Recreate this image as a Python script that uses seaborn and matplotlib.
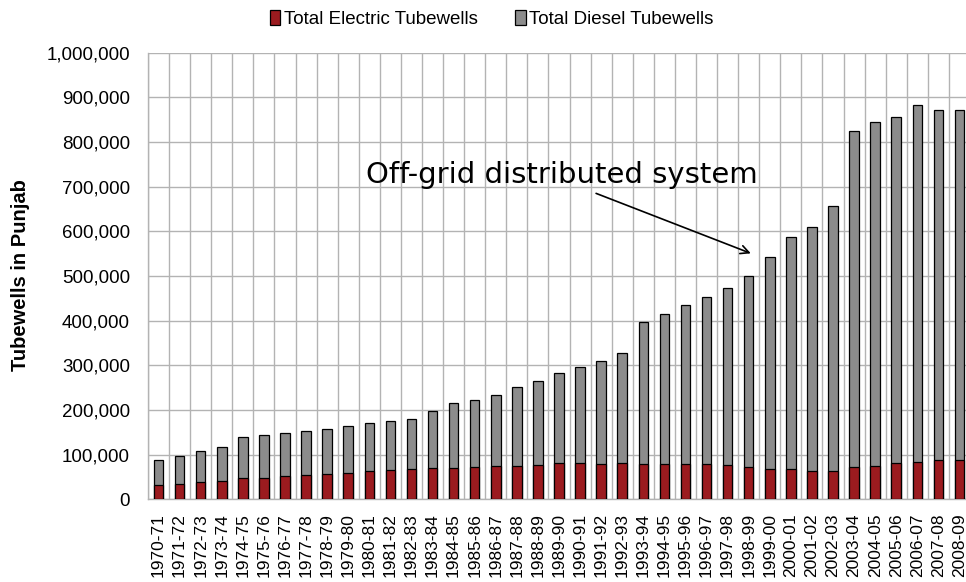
import numpy as np
import matplotlib
matplotlib.use("Agg")
import matplotlib.pyplot as plt
import seaborn as sns
from matplotlib.patches import Patch
from matplotlib.ticker import FuncFormatter

# Tubewells in Punjab, 1970-71 .. 2008-09
years = ["1970-71", "1971-72", "1972-73", "1973-74", "1974-75", "1975-76",
         "1976-77", "1977-78", "1978-79", "1979-80", "1980-81", "1981-82",
         "1982-83", "1983-84", "1984-85", "1985-86", "1986-87", "1987-88",
         "1988-89", "1989-90", "1990-91", "1991-92", "1992-93", "1993-94",
         "1994-95", "1995-96", "1996-97", "1997-98", "1998-99", "1999-00",
         "2000-01", "2001-02", "2002-03", "2003-04", "2004-05", "2005-06",
         "2006-07", "2007-08", "2008-09"]

electric = [31300, 34300, 38000, 41000, 47000, 48400, 51500, 54400, 56600, 58900,
            64000, 66300, 68500, 70000, 70700, 73000, 74500, 75200, 76800, 80600,
            80600, 79000, 80600, 79000, 78400, 79000, 79000, 76800, 73000, 67800,
            67200, 63400, 64000, 71600, 73900, 80600, 83500, 88000, 88000]

# electric + diesel (top of each stacked bar)
total = [88700, 97600, 108000, 117800, 138800, 144000, 149000, 153000, 157500, 164000,
         171500, 176000, 180500, 197000, 215000, 223000, 234000, 252000, 264000, 283000,
         296000, 310000, 328000, 396000, 415000, 435500, 452000, 473500, 500000, 542000,
         587000, 609500, 656000, 824000, 845000, 856500, 883500, 871500, 871500]

series_names = ["Total Electric Tubewells", "Total Diesel Tubewells"]
y_ticks = list(range(0, 1000001, 100000))

RED = "#9b1b1f"
GREY = "#8c8c8c"
GRID = "#b3b3b3"

sns.set_style("white")
plt.rcParams["font.family"] = ["Liberation Sans", "DejaVu Sans"]
plt.rcParams["text.color"] = "black"
plt.rcParams["xtick.labelcolor"] = "black"
plt.rcParams["ytick.labelcolor"] = "black"

fig = plt.figure(figsize=(9.66, 5.82), dpi=100)
ax = fig.add_axes([148 / 966, 1 - 499.3 / 582, (970 - 148) / 966, (499.3 - 52.7) / 582])

# grey = full stack height, red drawn over the bottom part
sns.barplot(x=years, y=total, order=years, color=GREY, saturation=1,
            edgecolor="black", linewidth=0.9, width=0.45, ax=ax, zorder=3)
sns.barplot(x=years, y=electric, order=years, color=RED, saturation=1,
            edgecolor="black", linewidth=0.9, width=0.45, ax=ax, zorder=4)

ax.set_xlim(-0.5, len(years) - 0.5)
ax.set_ylim(0, 1000000)
ax.set_yticks(y_ticks)
ax.yaxis.set_major_formatter(FuncFormatter(lambda v, p: f"{int(v):,}"))

# gridlines: horizontal at ticks, vertical between categories
ax.set_xticks(np.arange(-0.5, len(years), 1), minor=True)
ax.set_axisbelow(True)
ax.grid(True, axis="y", which="major", color=GRID, lw=1.0)
ax.grid(True, axis="x", which="minor", color=GRID, lw=1.0)
ax.grid(False, axis="x", which="major")

ax.tick_params(axis="x", which="major", length=0, labelrotation=90,
               labelsize=12.5, pad=10, labelcolor="black")
ax.tick_params(axis="x", which="minor", length=4, width=1.0, color=GRID, direction="out")
ax.tick_params(axis="y", which="major", length=4, width=1.0, color=GRID,
               direction="out", labelsize=13.5, pad=9, labelcolor="black")

for s in ["top", "right"]:
    ax.spines[s].set_visible(False)
for s in ["left", "bottom"]:
    ax.spines[s].set_color(GRID)
    ax.spines[s].set_linewidth(1.0)

ax.set_xlabel("")
ax.set_ylabel("")
fig.text(21 / 966, 1 - 275 / 582, "Tubewells in Punjab", rotation=90,
         ha="center", va="center", fontsize=14.5, fontweight="bold", color="black")

# annotation
ax.text(9.85, 708000, "Off-grid distributed system", family="DejaVu Sans",
        fontsize=21, ha="left", va="baseline", color="black", zorder=6)
ax.annotate("", xy=(28.1, 550700), xytext=(20.76, 685000),
            arrowprops=dict(arrowstyle="->,head_length=0.6,head_width=0.3",
                            color="black", lw=1.2, shrinkA=0, shrinkB=0), zorder=6)

handles = [Patch(facecolor=RED, edgecolor="black", lw=0.9),
           Patch(facecolor=GREY, edgecolor="black", lw=0.9)]
fig.legend(handles, series_names, loc="center", bbox_to_anchor=(0.509, 1 - 19 / 582),
           ncol=2, frameon=False, fontsize=13.5, handlelength=0.55, handleheight=0.9,
           handletextpad=0.2, columnspacing=2.0, labelcolor="black")

fig.savefig("out.png", dpi=100)
